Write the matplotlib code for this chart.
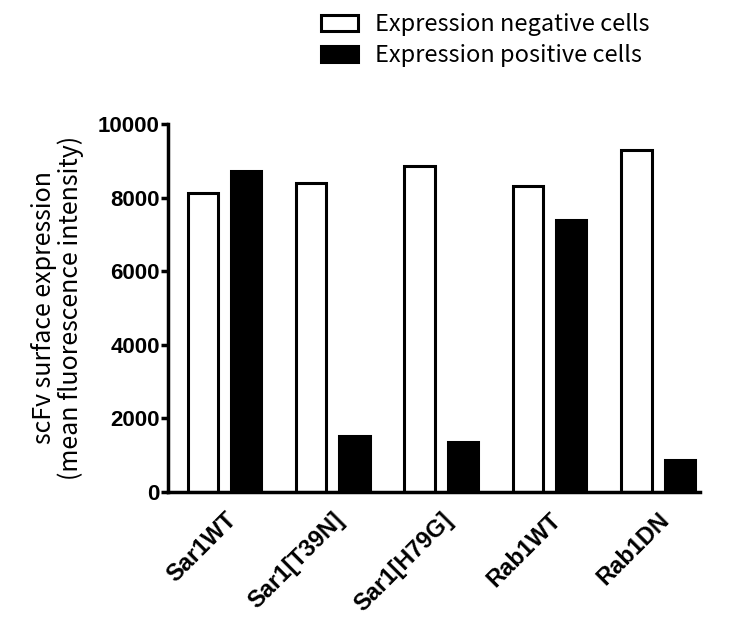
import numpy as np
import matplotlib.pyplot as plt

groups = ['Sar1WT', 'Sar1[T39N]', 'Sar1[H79G]', 'Rab1WT', 'Rab1DN']
negative = [8130, 8390, 8860, 8310, 9290]
positive = [8720, 1520, 1340, 7400, 860]

fig = plt.figure(figsize=(7.31, 6.25), dpi=100)
ax = fig.add_axes([0.23, 0.2133, 0.728, 0.588])

x = np.arange(len(groups))
w = 0.28
ax.bar(x - 0.2, negative, w, color='white', edgecolor='black', linewidth=2.2,
       label='Expression negative cells')
ax.bar(x + 0.2, positive, w, color='black', edgecolor='black', linewidth=2.2,
       label='Expression positive cells')

ax.set_xlim(-0.52, 4.39)
ax.set_ylim(0, 10000)
ax.set_yticks([0, 2000, 4000, 6000, 8000, 10000])
for s in ['top', 'right']:
    ax.spines[s].set_visible(False)
for s in ['left', 'bottom']:
    ax.spines[s].set_linewidth(2.5)

ax.tick_params(axis='y', width=2.5, length=5, labelsize=16, pad=1)
ax.tick_params(axis='x', length=0, labelsize=17, pad=12)
ax.set_xticks(x)
ax.set_xticklabels(groups, rotation=45, ha='right', rotation_mode='anchor')
for lab in ax.get_xticklabels() + ax.get_yticklabels():
    lab.set_fontweight('bold')
    lab.set_family('Liberation Sans')

ax.set_ylabel('scFv surface expression\n(mean fluorescence intensity)',
              fontsize=18, family='Noto Sans CJK KR', labelpad=10, linespacing=1.0)

fig.legend(loc='upper left', bbox_to_anchor=(0.41, 1.013), frameon=False,
           prop={'family': 'Noto Sans CJK KR', 'size': 17},
           handlelength=1.55, handleheight=0.7, handletextpad=0.75, labelspacing=0.35)

fig.savefig('out.png', dpi=100)
